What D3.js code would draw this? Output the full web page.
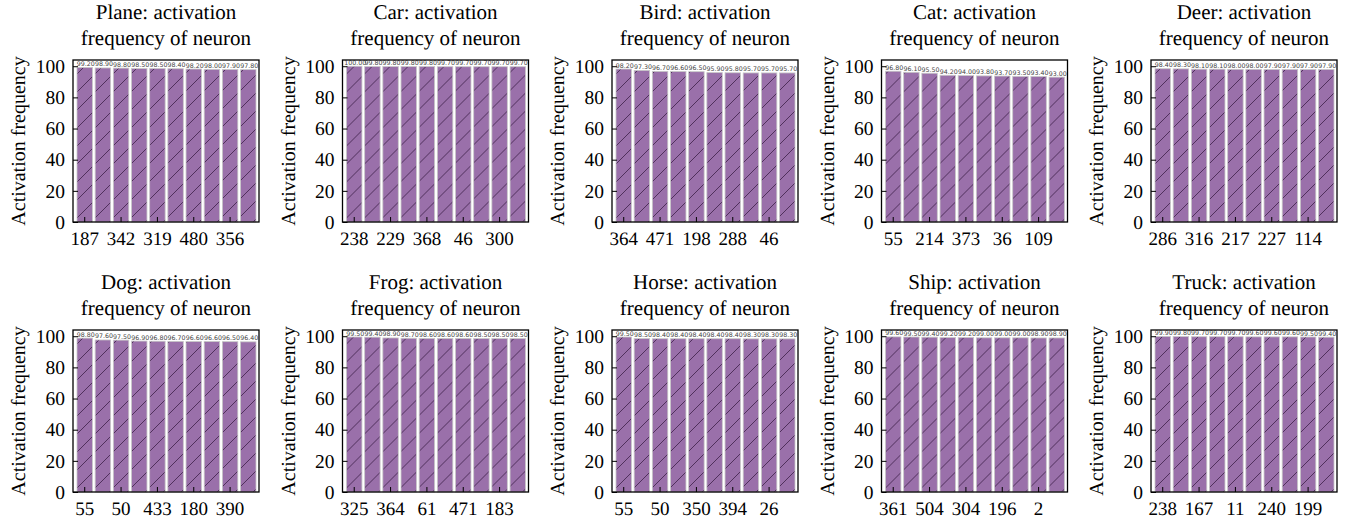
<!DOCTYPE html>
<html>
<head>
<meta charset="utf-8">
<script src="https://cdn.jsdelivr.net/npm/d3@7"></script>
<style>
  body { margin: 0; background: #fff; }
  svg { display: block; }
  svg text { text-rendering: geometricPrecision; }
</style>
</head>
<body>
<div id="chart"></div>
<script>
// classes shown, one panel each
const classes = ["Plane", "Car", "Bird", "Cat", "Deer", "Dog", "Frog", "Horse", "Ship", "Truck"];

// activation frequency of the top 10 neurons per class
const plane = [99.20, 98.90, 98.80, 98.50, 98.50, 98.40, 98.20, 98.00, 97.90, 97.80];
const car   = [100.00, 99.80, 99.80, 99.80, 99.80, 99.70, 99.70, 99.70, 99.70, 99.70];
const bird  = [98.20, 97.30, 96.70, 96.60, 96.50, 95.90, 95.80, 95.70, 95.70, 95.70];
const cat   = [96.80, 96.10, 95.50, 94.20, 94.00, 93.80, 93.70, 93.50, 93.40, 93.00];
const deer  = [98.40, 98.30, 98.10, 98.10, 98.00, 98.00, 97.90, 97.90, 97.90, 97.90];
const dog   = [98.80, 97.60, 97.50, 96.90, 96.80, 96.70, 96.60, 96.60, 96.50, 96.40];
const frog  = [99.50, 99.40, 98.90, 98.70, 98.60, 98.60, 98.60, 98.50, 98.50, 98.50];
const horse = [99.50, 98.50, 98.40, 98.40, 98.40, 98.40, 98.40, 98.30, 98.30, 98.30];
const ship  = [99.60, 99.50, 99.40, 99.20, 99.20, 99.00, 99.00, 99.00, 98.90, 98.90];
const truck = [99.90, 99.80, 99.70, 99.70, 99.70, 99.60, 99.60, 99.60, 99.50, 99.40];

// neuron ids printed under every other bar
const planeTicks = ["187", "342", "319", "480", "356"];
const carTicks   = ["238", "229", "368", "46", "300"];
const birdTicks  = ["364", "471", "198", "288", "46"];
const catTicks   = ["55", "214", "373", "36", "109"];
const deerTicks  = ["286", "316", "217", "227", "114"];
const dogTicks   = ["55", "50", "433", "180", "390"];
const frogTicks  = ["325", "364", "61", "471", "183"];
const horseTicks = ["55", "50", "350", "394", "26"];
const shipTicks  = ["361", "504", "304", "196", "2"];
const truckTicks = ["238", "167", "11", "240", "199"];

const yTicks = [0, 20, 40, 60, 80, 100];

const series = [plane, car, bird, cat, deer, dog, frog, horse, ship, truck];
const tickSets = [planeTicks, carTicks, birdTicks, catTicks, deerTicks,
                  dogTicks, frogTicks, horseTicks, shipTicks, truckTicks];

const W = 1350, H = 524;
const serif = "'Liberation Serif', 'Times New Roman', serif";
const pw = 186, ph = 162;

const svg = d3.select("#chart").append("svg")
    .attr("width", W)
    .attr("height", H);

// hatch pattern
const defs = svg.append("defs");
const pat = defs.append("pattern")
    .attr("id", "hatch")
    .attr("patternUnits", "userSpaceOnUse")
    .attr("width", 18)
    .attr("height", 18);
pat.append("rect").attr("width", 18).attr("height", 18).attr("fill", "#9a70aa");
pat.append("path")
    .attr("d", "M0,18 L18,0 M-4.5,4.5 L4.5,-4.5 M13.5,22.5 L22.5,13.5")
    .attr("stroke", "#43254f")
    .attr("stroke-opacity", 0.85)
    .attr("stroke-width", 1);

series.forEach((vals, i) => {
  const col = i % 5, row = Math.floor(i / 5);
  const left = 73 + col * 269.5;
  const top = 60 + row * 270;

  const g = svg.append("g").attr("transform", `translate(${left},${top})`);

  const x = d3.scaleBand()
      .domain(d3.range(vals.length))
      .range([4, pw - 3])
      .paddingInner(0.15);

  const y = d3.scaleLinear()
      .domain([0, 104])
      .range([ph, 0]);

  // bars
  g.selectAll("rect.bar")
    .data(vals)
    .join("rect")
      .attr("class", "bar")
      .attr("x", (d, j) => x(j))
      .attr("y", d => y(d))
      .attr("width", x.bandwidth())
      .attr("height", d => y(0) - y(d))
      .attr("fill", "url(#hatch)")
      .attr("stroke", "#c8c8c8")
      .attr("stroke-width", 0.8);

  // value labels
  g.selectAll("text.val")
    .data(vals)
    .join("text")
      .attr("class", "val")
      .attr("x", (d, j) => x(j) + x.bandwidth() / 2 + 1)
      .attr("y", d => y(d) - 1.5)
      .attr("text-anchor", "middle")
      .attr("font-family", "'DejaVu Sans', sans-serif")
      .attr("font-size", 6.3)
      .attr("fill", "#444")
      .text(d => d.toFixed(2));

  // y axis
  const yAxis = g.append("g")
      .call(d3.axisLeft(y).tickValues(yTicks).tickSize(-5).tickPadding(8));
  yAxis.select(".domain").remove();
  yAxis.selectAll("line").attr("stroke", "#000");
  yAxis.selectAll("text")
      .attr("font-family", serif)
      .attr("font-size", 19.5)
      .attr("fill", "#000");

  // x axis: label every other bar
  const tickIdx = d3.range(0, vals.length, 2);
  const labels = tickSets[i];
  const xAxis = g.append("g")
      .attr("transform", `translate(0,${ph})`)
      .call(d3.axisBottom(x)
        .tickValues(tickIdx)
        .tickFormat((d, k) => labels[k])
        .tickSize(-5)
        .tickPadding(10));
  xAxis.select(".domain").remove();
  xAxis.selectAll("line").attr("stroke", "#000");
  xAxis.selectAll("text")
      .attr("font-family", serif)
      .attr("font-size", 19)
      .attr("fill", "#000");

  // frame
  g.append("rect")
      .attr("width", pw)
      .attr("height", ph)
      .attr("fill", "none")
      .attr("stroke", "#000")
      .attr("stroke-width", 1.3);

  // title
  const title = g.append("text")
      .attr("x", pw / 2)
      .attr("y", -41)
      .attr("text-anchor", "middle")
      .attr("font-family", serif)
      .attr("font-size", 21)
      .attr("fill", "#000");
  title.append("tspan").attr("x", pw / 2).text(classes[i] + ": activation");
  title.append("tspan").attr("x", pw / 2).attr("dy", 26).text("frequency of neuron");

  // y label
  g.append("text")
      .attr("transform", `translate(-48,${ph / 2}) rotate(-90)`)
      .attr("text-anchor", "middle")
      .attr("font-family", serif)
      .attr("font-size", 20)
      .attr("fill", "#000")
      .text("Activation frequency");
});
</script>
</body>
</html>
